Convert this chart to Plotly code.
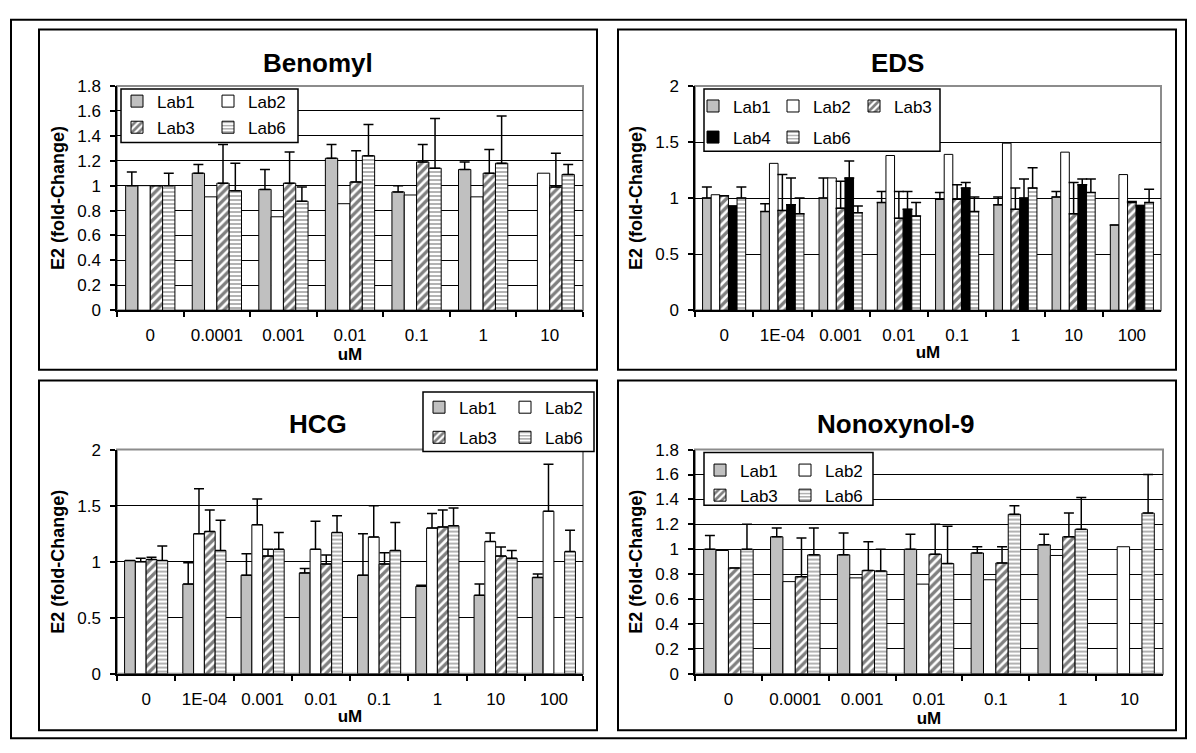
import plotly.graph_objects as go

W, H = 1196, 753
FONT = "Liberation Sans, Arial, sans-serif"

# ---------------- data ----------------
benomyl_cats = ["0", "0.0001", "0.001", "0.01", "0.1", "1", "10"]
benomyl_lab1 = [1.00, 1.10, 0.97, 1.22, 0.95, 1.13, None]
benomyl_lab1_err = [0.11, 0.07, 0.16, 0.11, 0.05, 0.06, None]
benomyl_lab2 = [1.00, 0.91, 0.75, 0.855, 0.925, 0.91, 1.10]
benomyl_lab3 = [1.00, 1.02, 1.02, 1.03, 1.19, 1.10, 0.99]
benomyl_lab3_err = [None, 0.31, 0.25, 0.25, 0.14, 0.19, 0.27]
benomyl_lab6 = [1.00, 0.96, 0.875, 1.24, 1.14, 1.18, 1.09]
benomyl_lab6_err = [0.10, 0.22, 0.115, 0.25, 0.40, 0.38, 0.08]

eds_cats = ["0", "1E-04", "0.001", "0.01", "0.1", "1", "10", "100"]
eds_lab1 = [1.00, 0.88, 1.00, 0.96, 0.99, 0.94, 1.01, 0.76]
eds_lab1_err = [0.10, 0.07, 0.18, 0.10, 0.06, 0.07, 0.05, None]
eds_lab2 = [1.03, 1.31, 1.18, 1.38, 1.39, 1.49, 1.41, 1.21]
eds_lab3 = [1.02, 0.89, 0.91, 0.82, 0.99, 0.90, 0.86, 0.96]
eds_lab3_err = [None, 0.32, 0.24, 0.24, 0.13, 0.19, 0.28, 0.01]
eds_lab4 = [0.93, 0.94, 1.18, 0.90, 1.09, 1.00, 1.12, 0.935]
eds_lab4_err = [None, 0.24, 0.15, 0.16, 0.05, 0.17, 0.05, None]
eds_lab6 = [1.00, 0.86, 0.87, 0.84, 0.88, 1.09, 1.05, 0.96]
eds_lab6_err = [0.10, 0.14, 0.06, 0.12, 0.13, 0.18, 0.12, 0.12]

hcg_cats = ["0", "1E-04", "0.001", "0.01", "0.1", "1", "10", "100"]
hcg_lab1 = [1.01, 0.80, 0.88, 0.90, 0.88, 0.78, 0.70, 0.86]
hcg_lab1_err = [None, 0.19, 0.19, 0.04, 0.37, 0.01, 0.10, 0.03]
hcg_lab2 = [1.00, 1.25, 1.33, 1.11, 1.22, 1.30, 1.18, 1.45]
hcg_lab2_err = [0.03, 0.40, 0.23, 0.25, 0.28, 0.13, 0.075, 0.42]
hcg_lab3 = [1.02, 1.27, 1.05, 0.98, 0.98, 1.31, 1.05, None]
hcg_lab3_err = [0.02, 0.19, 0.06, 0.08, 0.10, 0.15, 0.08, None]
hcg_lab6 = [1.01, 1.10, 1.11, 1.26, 1.10, 1.32, 1.03, 1.09]
hcg_lab6_err = [0.13, 0.27, 0.15, 0.15, 0.25, 0.16, 0.07, 0.19]

non_cats = ["0", "0.0001", "0.001", "0.01", "0.1", "1", "10"]
non_lab1 = [1.00, 1.10, 0.955, 1.00, 0.97, 1.035, None]
non_lab1_err = [0.11, 0.07, 0.175, 0.12, 0.05, 0.085, None]
non_lab2 = [0.99, 0.74, 0.77, 0.72, 0.755, 0.95, 1.02]
non_lab3 = [0.85, 0.78, 0.83, 0.96, 0.89, 1.10, None]
non_lab3_err = [None, 0.31, 0.23, 0.24, 0.13, 0.19, None]
non_lab6 = [1.00, 0.955, 0.825, 0.885, 1.28, 1.16, 1.29]
non_lab6_err = [0.20, 0.215, 0.175, 0.30, 0.07, 0.255, 0.31]

# ---------------- styles ----------------
STYLES = {
    "Lab1": dict(color="#C0C0C0"),
    "Lab2": dict(color="white"),
    "Lab3": dict(color="white", pattern=dict(shape="/", fgcolor="black", bgcolor="white", size=6, solidity=0.55)),
    "Lab4": dict(color="black"),
    "Lab6": dict(color="white", pattern=dict(shape="-", fgcolor="black", bgcolor="white", size=4, solidity=0.3)),
}


def px(xp):
    return xp / W


def py(yp):
    return 1 - yp / H


fig = go.Figure()


def add_bar(ax, cats, name, vals, err, legend, lg):
    marker = dict(STYLES[name])
    marker["line"] = dict(color="black", width=1)
    kw = {}
    if err is not None:
        kw["error_y"] = dict(type="data", array=err, symmetric=False,
                             arrayminus=[0] * len(err), color="black", thickness=1.5, width=5)
    fig.add_trace(go.Bar(x=cats, y=vals, name=name, marker=marker,
                         xaxis="x" + ax, yaxis="y" + ax, legend=legend,
                         legendgroup=lg, **kw))


# panel 1
add_bar("", benomyl_cats, "Lab1", benomyl_lab1, benomyl_lab1_err, "legend", "b1")
add_bar("", benomyl_cats, "Lab2", benomyl_lab2, None, "legend2", "b2")
add_bar("", benomyl_cats, "Lab3", benomyl_lab3, benomyl_lab3_err, "legend", "b3")
add_bar("", benomyl_cats, "Lab6", benomyl_lab6, benomyl_lab6_err, "legend2", "b6")
# panel 2
add_bar("2", eds_cats, "Lab1", eds_lab1, eds_lab1_err, "legend3", "e1")
add_bar("2", eds_cats, "Lab2", eds_lab2, None, "legend4", "e2")
add_bar("2", eds_cats, "Lab3", eds_lab3, eds_lab3_err, "legend5", "e3")
add_bar("2", eds_cats, "Lab4", eds_lab4, eds_lab4_err, "legend3", "e4")
add_bar("2", eds_cats, "Lab6", eds_lab6, eds_lab6_err, "legend4", "e6")
# panel 3
add_bar("3", hcg_cats, "Lab1", hcg_lab1, hcg_lab1_err, "legend6", "h1")
add_bar("3", hcg_cats, "Lab2", hcg_lab2, hcg_lab2_err, "legend7", "h2")
add_bar("3", hcg_cats, "Lab3", hcg_lab3, hcg_lab3_err, "legend6", "h3")
add_bar("3", hcg_cats, "Lab6", hcg_lab6, hcg_lab6_err, "legend7", "h6")
# panel 4
add_bar("4", non_cats, "Lab1", non_lab1, non_lab1_err, "legend8", "n1")
add_bar("4", non_cats, "Lab2", non_lab2, None, "legend9", "n2")
add_bar("4", non_cats, "Lab3", non_lab3, non_lab3_err, "legend8", "n3")
add_bar("4", non_cats, "Lab6", non_lab6, non_lab6_err, "legend9", "n6")

# ---------------- layout ----------------
# plot areas in pixels: (left, right, top, bottom, ymax, dtick)
AREAS = {
    "": (117, 583, 79, 309, 1.8, 0.2),
    "2": (695, 1161, 79, 309, 2.0, 0.5),
    "3": (117, 583, 452, 682, 2.0, 0.5),
    "4": (695, 1163, 452, 682, 1.8, 0.2),
}

layout = dict(
    width=W, height=H,
    margin=dict(l=0, r=0, t=0, b=0),
    paper_bgcolor="white", plot_bgcolor="white",
    barmode="group", bargap=0.26, bargroupgap=0,
    font=dict(family=FONT, color="black", size=17),
    showlegend=True,
)

shapes = []
for ax, (l, r, t, b, ymax, dt) in AREAS.items():
    layout["xaxis" + ax] = dict(
        domain=[px(l), px(r)], anchor="y" + ax, type="category",
        showline=True, linecolor="black", linewidth=1.5,
        ticks="outside", tickson="boundaries", ticklen=5, tickwidth=1.5, tickcolor="black",
        tickfont=dict(family=FONT, size=17, color="black"),
        ticklabelstandoff=9,
        showgrid=False, zeroline=False, fixedrange=True,
        title=dict(text="<b>uM</b>", font=dict(family=FONT, size=17, color="black"), standoff=2),
    )
    layout["yaxis" + ax] = dict(
        domain=[py(b), py(t)], anchor="x" + ax, range=[0, ymax], dtick=dt, tick0=0,
        showline=True, linecolor="black", linewidth=1.5,
        ticks="outside", ticklen=5, tickwidth=1.5, tickcolor="black",
        tickfont=dict(family=FONT, size=17, color="black"),
        ticklabelstandoff=6,
        showgrid=True, gridcolor="black", gridwidth=1, zeroline=False, fixedrange=True,
        title=dict(text="<b>E2 (fold-Change)</b>", font=dict(family=FONT, size=18, color="black"), standoff=8),
    )
    # grey top / right frame of plot area
    shapes.append(dict(type="rect", xref="paper", yref="paper", x0=px(l), x1=px(r),
                       y0=py(b), y1=py(t), line=dict(color="#8c8c8c", width=2), layer="below"))

# outer frame and panel boxes
shapes.append(dict(type="rect", xref="paper", yref="paper", x0=px(11), x1=px(1186), y0=py(748), y1=py(11),
                   line=dict(color="black", width=2)))
for (x0, x1, y0, y1) in [(39, 597, 21, 370), (618, 1176, 21, 370), (39, 597, 381, 740), (618, 1176, 381, 740)]:
    shapes.append(dict(type="rect", xref="paper", yref="paper", x0=px(x0), x1=px(x1), y0=py(y1), y1=py(y0),
                       line=dict(color="black", width=2)))

# legend boxes
for (x0, x1, y0, y1) in [(121, 298, 82, 137), (704, 940, 82, 146), (423, 594, 393, 454), (704, 873, 455, 509)]:
    shapes.append(dict(type="rect", xref="paper", yref="paper", x0=px(x0), x1=px(x1), y0=py(y1), y1=py(y0),
                       line=dict(color="black", width=1.5), fillcolor="white", layer="above"))

layout["shapes"] = shapes


def leg(x_text, y_top, size=17, gap=0):
    return dict(x=px(x_text - 38), y=py(y_top), xanchor="left", yanchor="top",
                orientation="v", bgcolor="rgba(0,0,0,0)", borderwidth=0,
                traceorder="grouped", tracegroupgap=gap,
                font=dict(family=FONT, size=size, color="black"))


layout["legend"] = leg(155, 76.5, gap=1)
layout["legend2"] = leg(246, 76.5, gap=1)
layout["legend3"] = leg(731, 81.5, gap=6)
layout["legend4"] = leg(811, 81.5, gap=6)
layout["legend5"] = leg(892, 81.5, gap=6)
layout["legend6"] = leg(457, 390.5, gap=5)
layout["legend7"] = leg(543, 390.5, gap=5)
layout["legend8"] = leg(738, 455, gap=0)
layout["legend9"] = leg(823, 455, gap=0)

annotations = []
for text, x, y in [("Benomyl", 318, 55), ("EDS", 897, 55), ("HCG", 318, 426), ("Nonoxynol-9", 896, 426)]:
    annotations.append(dict(text="<b>%s</b>" % text, x=px(x), y=py(y), xref="paper", yref="paper",
                            xanchor="center", yanchor="middle", showarrow=False,
                            font=dict(family=FONT, size=26, color="black")))
layout["annotations"] = annotations

fig.update_layout(**layout)
fig.write_html("out.html")
